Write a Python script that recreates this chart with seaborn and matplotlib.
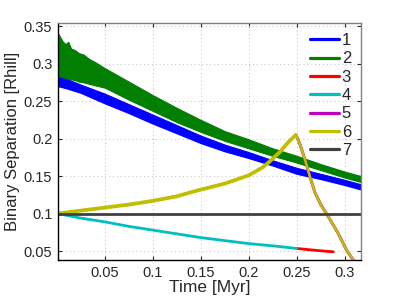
import numpy as np
import pandas as pd
import matplotlib
matplotlib.use("Agg")
import matplotlib.pyplot as plt
import seaborn as sns

# values
blue_t = [0.001, 0.01, 0.025, 0.05, 0.075, 0.1, 0.125, 0.15, 0.175, 0.2, 0.225, 0.25, 0.275, 0.3, 0.317]
blue_hi = [0.284, 0.280, 0.272, 0.260, 0.246, 0.232, 0.218, 0.204, 0.192, 0.182, 0.171, 0.161, 0.153, 0.145, 0.139]
blue_lo = [0.270, 0.267, 0.261, 0.247, 0.234, 0.220, 0.207, 0.194, 0.183, 0.174, 0.164, 0.153, 0.146, 0.138, 0.132]

green_t = [0.001, 0.003, 0.006, 0.009, 0.012, 0.015, 0.019, 0.023, 0.028, 0.034, 0.04, 0.05,
           0.075, 0.1, 0.125, 0.15, 0.175, 0.2, 0.225, 0.25, 0.275, 0.3, 0.317]
green_hi = [0.341, 0.337, 0.330, 0.326, 0.329, 0.320, 0.318, 0.314, 0.312, 0.306, 0.302, 0.294,
            0.276, 0.258, 0.241, 0.225, 0.210, 0.199, 0.187, 0.177, 0.166, 0.156, 0.150]
green_lo = [0.284, 0.283, 0.282, 0.281, 0.280, 0.279, 0.278, 0.276, 0.275, 0.273, 0.271, 0.268,
            0.252, 0.237, 0.222, 0.209, 0.197, 0.187, 0.177, 0.168, 0.158, 0.148, 0.142]

cyan_t = [0.001, 0.025, 0.05, 0.075, 0.1, 0.125, 0.15, 0.175, 0.2, 0.225, 0.25]
cyan_y = [0.100, 0.094, 0.089, 0.083, 0.078, 0.073, 0.068, 0.064, 0.060, 0.057, 0.0535]

red_t = [0.25, 0.27, 0.288]
red_y = [0.0535, 0.051, 0.049]

yel_t = [0.001, 0.025, 0.05, 0.075, 0.1, 0.125, 0.144, 0.175, 0.2, 0.215, 0.224, 0.233, 0.241, 0.249]
yel_y = [0.100, 0.104, 0.108, 0.112, 0.117, 0.123, 0.130, 0.140, 0.151, 0.162, 0.172, 0.183, 0.195, 0.205]

desc_t = [0.249, 0.251, 0.254, 0.259, 0.264, 0.269, 0.275, 0.281, 0.287, 0.293, 0.302, 0.310]
desc_y = [0.205, 0.200, 0.190, 0.170, 0.148, 0.128, 0.112, 0.100, 0.087, 0.074, 0.051, 0.036]

gray_t = [0.001, 0.1, 0.2, 0.317]
gray_y = [0.100, 0.100, 0.100, 0.100]

labels = ["1", "2", "3", "4", "5", "6", "7"]

sns.set_style("white")
plt.rcParams['font.family'] = ['Liberation Sans', 'DejaVu Sans']

fig = plt.figure(figsize=(3.99, 3.0), dpi=100)
ax = fig.add_axes([0.145, 0.133, 0.76, 0.79])

ax.fill_between(blue_t, blue_lo, blue_hi, color='#0000ff', lw=0.8, edgecolor='#0000ff')
ax.fill_between(green_t, green_lo, green_hi, color='#007f00', lw=0.8, edgecolor='#007f00')

blue_df = pd.DataFrame({'t': blue_t, 'y': (np.array(blue_hi) + np.array(blue_lo)) / 2})
green_df = pd.DataFrame({'t': green_t, 'y': (np.array(green_hi) + np.array(green_lo)) / 2})
sns.lineplot(data=blue_df, x='t', y='y', color='#0000ff', lw=1.0, ax=ax, label=labels[0])
sns.lineplot(data=green_df, x='t', y='y', color='#007f00', lw=1.0, ax=ax, label=labels[1])

sns.lineplot(x=red_t, y=red_y, color='#ff0000', lw=2.0, ax=ax, label=labels[2])
sns.lineplot(x=cyan_t, y=cyan_y, color='#00bfbf', lw=2.0, ax=ax, label=labels[3])
sns.lineplot(x=desc_t, y=desc_y, color='#bf00bf', lw=2.1, ax=ax, label=labels[4])
sns.lineplot(x=yel_t, y=yel_y, color='#bfbf00', lw=2.7, ax=ax, label=labels[5])
sns.lineplot(x=desc_t, y=desc_y, color='#bfbf00', lw=1.8, ax=ax)
sns.lineplot(x=gray_t, y=gray_y, color='#404040', lw=2.0, ax=ax, label=labels[6])

ax.set_xlim(0.0012, 0.317)
ax.set_ylim(0.038, 0.354)
ax.set_xticks([0.05, 0.1, 0.15, 0.2, 0.25, 0.3])
ax.set_xticklabels(['0.05', '0.1', '0.15', '0.2', '0.25', '0.3'])
ax.set_yticks([0.05, 0.1, 0.15, 0.2, 0.25, 0.3, 0.35])
ax.set_yticklabels(['0.05', '0.1', '0.15', '0.2', '0.25', '0.3', '0.35'])
ax.grid(True, linestyle=(0, (1, 3)), color='#bdbdbd', lw=0.7)
ax.tick_params(direction='in', length=3, labelsize=10.5, top=True, right=True,
               bottom=True, left=True, pad=4, color='#262626')
ax.set_xlabel('Time [Myr]', fontsize=12.5, labelpad=0)
ax.set_ylabel('Binary Separation [Rhill]', fontsize=12, labelpad=3)
for side in ['left', 'bottom']:
    ax.spines[side].set_color('black')
    ax.spines[side].set_linewidth(1.0)
for side in ['top', 'right']:
    ax.spines[side].set_color('#808080')
    ax.spines[side].set_linewidth(1.0)

leg = ax.legend(loc='upper right', frameon=False, fontsize=12, handlelength=1.75,
                handletextpad=0.15, labelspacing=0.2, borderaxespad=0.2)
for line in leg.get_lines():
    line.set_linewidth(2.3)

fig.savefig('out.png', dpi=100)
